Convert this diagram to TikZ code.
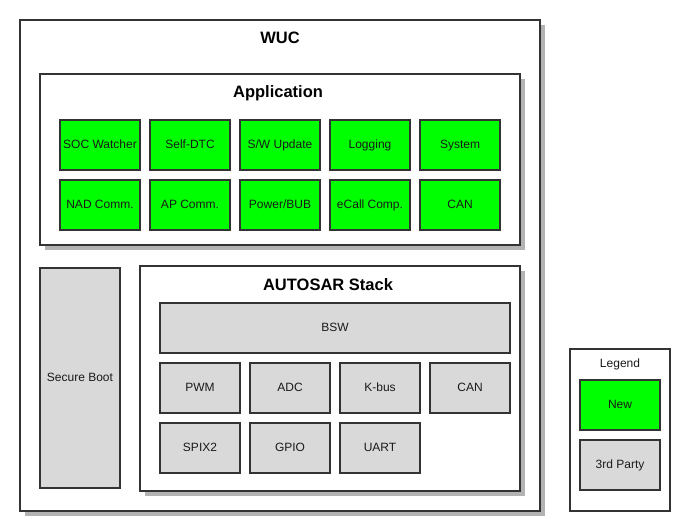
\documentclass[tikz,border=0pt]{standalone}
\usepackage{fontspec}
\setmainfont{Liberation Sans}
\definecolor{bd}{HTML}{333333}
\definecolor{grn}{HTML}{00FF00}
\definecolor{gry}{HTML}{D9D9D9}
\definecolor{shd}{HTML}{B3B3B3}
\definecolor{txt}{HTML}{1A1A1A}
\begin{document}
\begin{tikzpicture}[x=1pt,y=-1pt,
  frame/.style={draw=bd,line width=1.6pt,fill=white},
  box/.style={draw=bd,line width=1.6pt},
  newbox/.style={box,fill=grn},
  oldbox/.style={box,fill=gry},
  ttl/.style={font=\bfseries\fontsize{16.5}{19}\selectfont,text=black,text height=12pt,text depth=3.5pt},
  small/.style={font=\fontsize{12}{14}\selectfont,text=txt,text height=8.8pt,text depth=2.6pt}]
\useasboundingbox (0,0) rectangle (690,531);
% WUC
\fill[shd] (25,25) rectangle (545,516);
\draw[frame] (20,20) rectangle (540,511);
\node[ttl] (wuc) at (280,39) {WUC};
% Application
\fill[shd] (45,79) rectangle (525,250);
\draw[frame] (40,74) rectangle (520,245);
\node[ttl] (app) at (278,93) {Application};
\foreach \n/\t [count=\i from 0] in {soc/{SOC Watcher},dtc/{Self-DTC},sw/{S/W Update},log/{Logging},sys/{System}}{
  \draw[newbox] (60+90*\i,120) rectangle (140+90*\i,170);
  \node[small] (\n) at (100+90*\i,145) {\t};
}
\foreach \n/\t [count=\i from 0] in {nad/{NAD Comm.},ap/{AP Comm.},pow/{Power/BUB},ecall/{eCall Comp.},can1/{CAN}}{
  \draw[newbox] (60+90*\i,180) rectangle (140+90*\i,230);
  \node[small] (\n) at (100+90*\i,205) {\t};
}
% Secure boot
\draw[oldbox] (40,268) rectangle (120,488);
\node[small] (sb) at (80,378) {Secure Boot};
% AUTOSAR
\fill[shd] (145,271) rectangle (525,496);
\draw[frame] (140,266) rectangle (520,491);
\node[ttl] (autosar) at (328,286) {AUTOSAR Stack};
\draw[oldbox] (160,303) rectangle (510,353);
\node[small] (bsw) at (335,328) {BSW};
\foreach \n/\t [count=\i from 0] in {pwm/PWM,adc/ADC,kbus/K-bus,can2/CAN}{
  \draw[oldbox] (160+90*\i,363) rectangle (240+90*\i,413);
  \node[small] (\n) at (200+90*\i,388) {\t};
}
\foreach \n/\t [count=\i from 0] in {spi/SPIX2,gpio/GPIO,uart/UART}{
  \draw[oldbox] (160+90*\i,423) rectangle (240+90*\i,473);
  \node[small] (\n) at (200+90*\i,448) {\t};
}
% Legend
\draw[frame] (570,349) rectangle (670,511);
\node[small] (leg) at (620,364) {Legend};
\draw[newbox] (580,380) rectangle (660,430);
\node[small] (new) at (620,405) {New};
\draw[oldbox] (580,440) rectangle (660,490);
\node[small] (third) at (620,465) {3rd Party};
\end{tikzpicture}
\end{document}
